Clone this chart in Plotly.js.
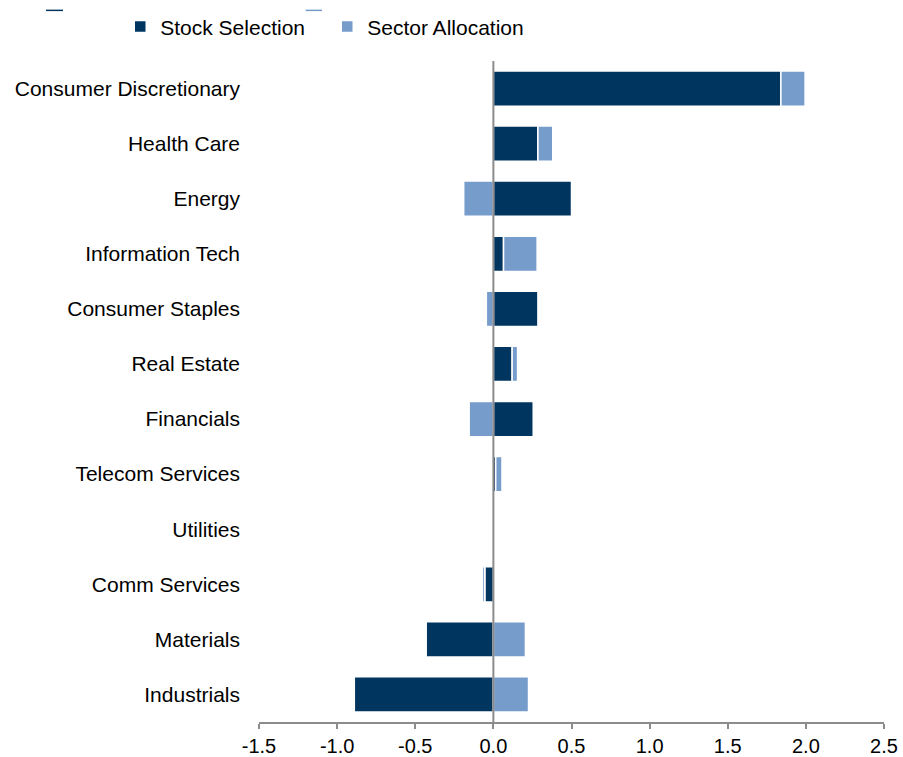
<!DOCTYPE html>
<html>
<head>
<meta charset="utf-8">
<script src="https://cdn.plot.ly/plotly-3.0.1.min.js"></script>
<style>html,body{margin:0;padding:0;background:#fff;}#chart{width:903px;height:757px;}</style>
</head>
<body>
<div id="chart"></div>
<script>
var categories = ["Consumer Discretionary","Health Care","Energy","Information Tech","Consumer Staples","Real Estate","Financials","Telecom Services","Utilities","Comm Services","Materials","Industrials"];
var stockSelection = [1.84, 0.285, 0.50, 0.065, 0.285, 0.12, 0.255, 0.015, 0, -0.055, -0.43, -0.89];
var sectorAllocation = [0.155, 0.095, -0.19, 0.215, -0.045, 0.035, -0.155, 0.04, 0, -0.015, 0.205, 0.225];
var xTicks = [-1.5, -1.0, -0.5, 0.0, 0.5, 1.0, 1.5, 2.0, 2.5];
var xTickText = ["-1.5","-1.0","-0.5","0.0","0.5","1.0","1.5","2.0","2.5"];

var dark = "#003560", light = "#769CCB";
var fam = "Liberation Sans, Arial, sans-serif";
var font = {family: fam, size: 21, color: "#000"};

var traces = [
  {type: "bar", orientation: "h", name: "Stock Selection", y: categories, x: stockSelection,
   marker: {color: dark, line: {color: "#fff", width: 1.5}}, hoverinfo: "x+y+name"},
  {type: "bar", orientation: "h", name: "Sector Allocation", y: categories, x: sectorAllocation,
   marker: {color: light, line: {color: "#fff", width: 1.5}}, hoverinfo: "x+y+name"}
];

var layout = {
  width: 903, height: 757,
  margin: {l: 259, r: 19, t: 61, b: 35, pad: 0, autoexpand: false},
  paper_bgcolor: "#fff", plot_bgcolor: "#fff",
  font: font,
  barmode: "relative",
  bargap: 0.36,
  showlegend: true,
  legend: {orientation: "h", x: -0.222, xanchor: "left", y: 1.0515, yanchor: "middle",
           font: font, entrywidth: 162, entrywidthmode: "pixels", bgcolor: "rgba(0,0,0,0)",
           traceorder: "normal"},
  xaxis: {range: [-1.5, 2.5], tickvals: xTicks, ticktext: xTickText,
          showgrid: false, zeroline: false,
          showline: true, linecolor: "#8C8C8C", linewidth: 2,
          ticks: "outside", ticklen: 5, tickwidth: 2, tickcolor: "#8C8C8C",
          tickfont: {family: fam, size: 20, color: "#000"}, fixedrange: true},
  yaxis: {type: "category", categoryorder: "array", categoryarray: categories, autorange: "reversed",
          showgrid: false, zeroline: false, showline: false, ticks: "",
          ticklabelstandoff: 18, tickfont: font, fixedrange: true},
  shapes: [
    {type: "line", xref: "x", yref: "paper", x0: 0, x1: 0, y0: 0, y1: 1, layer: "above",
     line: {color: "#8C8C8C", width: 2}},
    {type: "line", xref: "paper", yref: "paper", x0: -0.3408, x1: -0.3136, y0: 1.0766, y1: 1.0766,
     line: {color: dark, width: 1.5}},
    {type: "line", xref: "paper", yref: "paper", x0: 0.0747, x1: 0.1008, y0: 1.0766, y1: 1.0766,
     line: {color: light, width: 1.5}}
  ]
};

Plotly.newPlot("chart", traces, layout, {displayModeBar: false, staticPlot: true});
</script>
</body>
</html>
